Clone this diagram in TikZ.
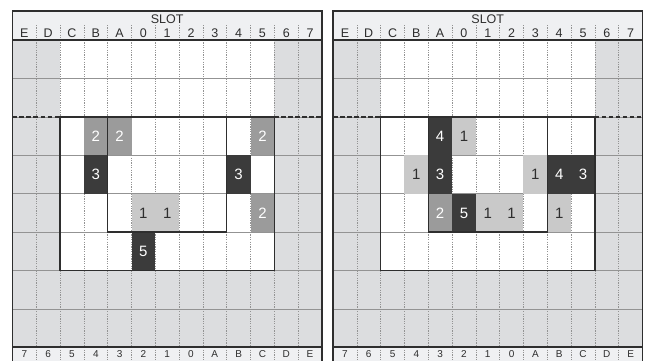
\documentclass[tikz,border=0pt]{standalone}
\usepackage{fontspec}
\setmainfont{Liberation Sans}
\definecolor{hdrbg}{HTML}{EFF0F2}
\definecolor{offbg}{HTML}{DCDDDF}
\definecolor{lo}{HTML}{C9C9C9}
\definecolor{mid}{HTML}{9B9B9B}
\definecolor{hi}{HTML}{3B3B3B}
\definecolor{ink}{HTML}{2E2E2E}
\tikzset{
    grid/.style={gray!85, line width=0.5pt},
    vgrid/.style={grid, dash pattern=on 1.2pt off 1.2pt},
    rim/.style={ink, line width=1.5pt},
    cut/.style={rim, dash pattern=on 4.5pt off 2.5pt},
    hdrlabel/.style={font=\fontsize{12.5}{13}\selectfont, text=ink, anchor=base, inner sep=0pt},
    botlabel/.style={font=\fontsize{10}{11}\selectfont, text=ink, anchor=base, inner sep=0pt},
    num/.style={font=\fontsize{15}{16}\selectfont, anchor=base, inner sep=0pt}
}
\begin{document}
\begin{tikzpicture}[x=23.8pt, y=38.4pt]
    \useasboundingbox (-0.525,1.042) rectangle (26.74,-8.333);
    \foreach \p/\dx in {L/0,R/13.466}{
    \begin{scope}[shift={(\dx,0)}]
        % backgrounds
            \fill[hdrbg] (0,0) rectangle (13,0.755);
            \fill[offbg] (0,0) rectangle (13,-8);
            \fill[white] (2,0) rectangle (11,-6);
            \fill[hdrbg] (0,-8) rectangle (13,-9);
        % grid
            \foreach \r in {1,...,7}
                \draw[grid] (0,-\r) -- (13,-\r);
            \foreach \k in {1,...,12}{
                \draw[vgrid] (\k,0) -- (\k,-8);
                \draw[vgrid] (\k,0.39) -- (\k,0);
                \draw[vgrid] (\k,-8) -- (\k,-9);
            }
        % labels
            \node[hdrlabel] (\p-slot) at (6.5,0.417) {SLOT};
            \foreach \k/\t/\b in {0/E/7,1/D/6,2/C/5,3/B/4,4/A/3,5/0/2,6/1/1,7/2/0,8/3/A,9/4/B,10/5/C,11/6/D,12/7/E}{
                \node[hdrlabel] (\p-top-\k) at (\k+0.5,0.078) {\t};
                \node[botlabel] (\p-bot-\k) at (\k+0.5,-8.26) {\b};
            }
    \end{scope}
    }
    % cells, left
        \foreach \k/\r/\n/\c/\f in {3/2/2/mid/white,4/2/2/mid/white,10/2/2/mid/white,
                3/3/3/hi/white,9/3/3/hi/white,
                5/4/1/lo/ink,6/4/1/lo/ink,10/4/2/mid/white,
                5/5/5/hi/white}{
            \fill[\c] (\k,-\r) rectangle ++(1,-1);
            \node[num, text=\f] (L-\k-\r) at (\k+0.5,-\r-0.64) {\n};
        }
    % cells, right
        \begin{scope}[shift={(13.466,0)}]
        \foreach \k/\r/\n/\c/\f in {4/2/4/hi/white,5/2/1/lo/ink,
                3/3/1/lo/ink,4/3/3/hi/white,8/3/1/lo/ink,9/3/4/hi/white,10/3/3/hi/white,
                4/4/2/mid/white,5/4/5/hi/white,6/4/1/lo/ink,7/4/1/lo/ink,9/4/1/lo/ink}{
            \fill[\c] (\k,-\r) rectangle ++(1,-1);
            \node[num, text=\f] (R-\k-\r) at (\k+0.5,-\r-0.64) {\n};
        }
        \end{scope}
    % outlines
    \foreach \dx in {0,13.466}{
    \begin{scope}[shift={(\dx,0)}]
        \draw[cut] (0,-2) -- (2,-2);
        \draw[cut] (11,-2) -- (13,-2);
        \draw[rim] (2,-2) rectangle (11,-6);
        \draw[rim] (4,-2) rectangle (9,-5);
        \draw[ink, line width=2pt] (0,0) -- (13,0);
        \draw[ink, line width=2pt] (0,-8) -- (13,-8);
        \draw[rim] (0,-9) rectangle (13,0.755);
    \end{scope}
    }
\end{tikzpicture}
\end{document}
